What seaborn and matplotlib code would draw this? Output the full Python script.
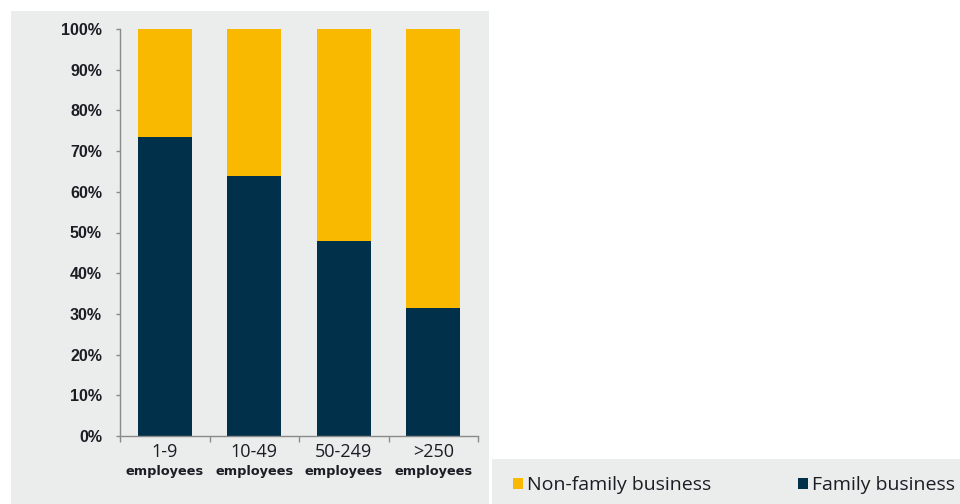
import matplotlib
matplotlib.use("Agg")
import matplotlib.pyplot as plt
from matplotlib.patches import Rectangle
from matplotlib.ticker import FixedLocator, PercentFormatter
import seaborn as sns
import pandas as pd

# Share of firms by size class (%)
categories = ["1-9", "10-49", "50-249", ">250"]
size_unit = "employees"
family_share = [73.5, 64.0, 48.0, 31.5]
non_family_share = [26.5, 36.0, 52.0, 68.5]

series_names = ["Non-family business", "Family business"]
navy = "#00304A"
yellow = "#F9B900"
panel_grey = "#EBECEC"
text_dark = "#1c1c24"

df = pd.DataFrame({
    "size": categories,
    "family": family_share,
    "total": [f + n for f, n in zip(family_share, non_family_share)],
})

sns.set_theme(style="white")
plt.rcParams["font.family"] = ["Liberation Sans", "DejaVu Sans"]

fig = plt.figure(figsize=(9.6, 5.04), dpi=100)
fig.patch.set_facecolor("white")

# grey background panels behind the chart and the legend strip
fig.patches.append(Rectangle((11 / 960, 0), (489 - 11) / 960, (504 - 11) / 504,
                             transform=fig.transFigure, facecolor=panel_grey,
                             edgecolor="none", zorder=-10))
fig.patches.append(Rectangle((492 / 960, 0), (960 - 492) / 960, 45 / 504,
                             transform=fig.transFigure, facecolor=panel_grey,
                             edgecolor="none", zorder=-10))

ax = fig.add_axes([120 / 960, 68 / 504, 358 / 960, 407 / 504])
ax.set_facecolor("none")

# stacked bars: full height in yellow, family share drawn over it in navy
sns.barplot(data=df, x="size", y="total", order=categories, color=yellow,
            saturation=1, width=0.6, linewidth=0, ax=ax, label=series_names[0])
sns.barplot(data=df, x="size", y="family", order=categories, color=navy,
            saturation=1, width=0.6, linewidth=0, ax=ax, label=series_names[1])
if ax.get_legend() is not None:
    ax.get_legend().remove()

ax.set_xlim(-0.5, len(categories) - 0.5)
ax.set_ylim(0, 100)
ax.set_xlabel("")
ax.set_ylabel("")

for side in ("top", "right"):
    ax.spines[side].set_visible(False)
for side in ("left", "bottom"):
    ax.spines[side].set_color("#8a8a8a")
    ax.spines[side].set_linewidth(1.0)

ax.yaxis.set_major_locator(FixedLocator(range(0, 101, 10)))
ax.yaxis.set_major_formatter(PercentFormatter(decimals=0))
ax.tick_params(axis="y", left=True, length=3, width=1, color="#8a8a8a",
               pad=10, labelsize=11.5, labelcolor=text_dark)
for lab in ax.get_yticklabels():
    lab.set_fontweight("bold")

# category ticks between the bars, labels under the bar centres
ax.xaxis.set_minor_locator(FixedLocator([i - 0.5 for i in range(len(categories) + 1)]))
ax.tick_params(axis="x", which="minor", bottom=True, length=4, width=1,
               color="#8a8a8a")
ax.tick_params(axis="x", which="major", bottom=False, length=0, pad=5)
ax.set_xticks(range(len(categories)))
ax.set_xticklabels(categories, fontsize=13, color=text_dark,
                   family=["Open Sans", "DejaVu Sans"])
for i in range(len(categories)):
    ax.annotate(size_unit, xy=(i, 0), xycoords=("data", "axes fraction"),
                xytext=(0, -30.5), textcoords="offset points", ha="center",
                va="bottom", fontsize=9.3, fontweight="bold",
                family=["DejaVu Sans"], color=text_dark)

handles, labels = ax.get_legend_handles_labels()
fig.legend(handles[:2], labels[:2], loc="center left",
           bbox_to_anchor=(513 / 960, 19 / 504),
           ncol=2, frameon=False, handlelength=0.5, handleheight=0.5,
           handletextpad=0.2, columnspacing=4.5, borderaxespad=0, borderpad=0,
           prop={"family": ["Open Sans", "DejaVu Sans"], "size": 14},
           labelcolor=text_dark)

fig.savefig("out.png", dpi=100, facecolor=fig.get_facecolor())
